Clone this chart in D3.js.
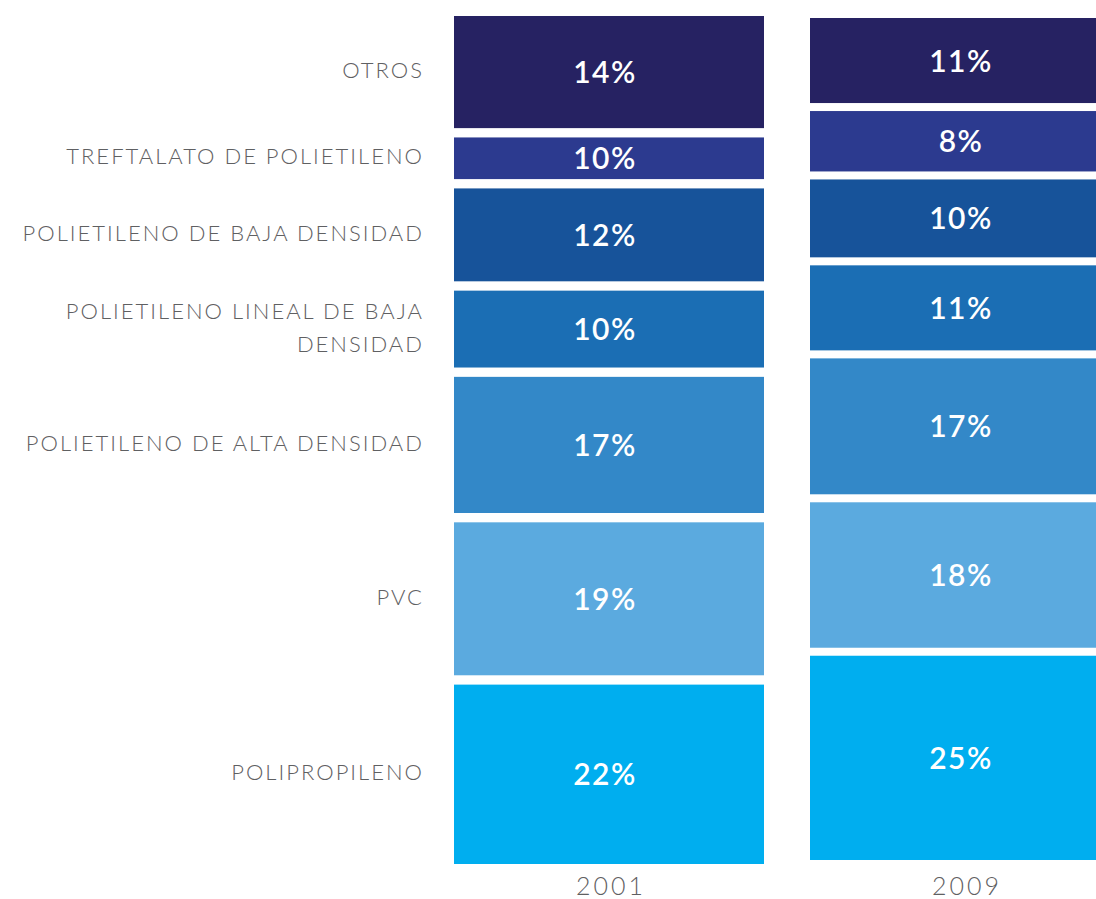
<!DOCTYPE html>
<html><head><meta charset="utf-8">
<script src="https://cdn.jsdelivr.net/npm/d3@7"></script>
<style>html,body{margin:0;padding:0;background:#fff;overflow:hidden}</style>
</head><body><svg id="c" width="1096" height="899"></svg>
<script>
// ---- data (bottom to top) ----
const categories = ["POLIPROPILENO", "PVC", "POLIETILENO DE ALTA DENSIDAD",
  "POLIETILENO LINEAL DE BAJA DENSIDAD", "POLIETILENO DE BAJA DENSIDAD",
  "TREFTALATO DE POLIETILENO", "OTROS"];
const categoryLines = [["POLIPROPILENO"], ["PVC"], ["POLIETILENO DE ALTA DENSIDAD"],
  ["POLIETILENO LINEAL DE BAJA", "DENSIDAD"], ["POLIETILENO DE BAJA DENSIDAD"],
  ["TREFTALATO DE POLIETILENO"], ["OTROS"]];
const years = ["2001", "2009"];
const values2001 = [22.4, 19.1, 17.0, 9.6, 11.6, 5.2, 14.0];
const values2009 = [25.7, 18.3, 17.1, 10.7, 9.8, 7.6, 10.7];
const labels2001 = ["22%", "19%", "17%", "10%", "12%", "10%", "14%"];
const labels2009 = ["25%", "18%", "17%", "11%", "10%", "8%", "11%"];
const colors = ["#00AEEF", "#5BAADF", "#3388C8", "#1B6EB4", "#17539A", "#2C3A8F", "#262262"];

// ---- layout ----
const svg = d3.select("#c");
const x = d3.scaleBand().domain(years).range([454, 1120]).paddingInner(46 / 356).paddingOuter(0);
const colLayout = {"2001": {top: 16, bottom: 864, gap: 9.33}, "2009": {top: 18, bottom: 860, gap: 8}};
const series = {"2001": {values: values2001, labels: labels2001}, "2009": {values: values2009, labels: labels2009}};

const segs2001 = [];
years.forEach(yr => {
  const L = colLayout[yr], vals = series[yr].values, labs = series[yr].labels;
  const n = vals.length, total = d3.sum(vals);
  const y = d3.scaleLinear().domain([0, total]).range([L.bottom, L.top + L.gap * (n - 1)]);
  let cum = 0;
  const segs = vals.map((v, i) => {
    const y0 = y(cum) - i * L.gap; cum += v;
    const y1 = y(cum) - i * L.gap;
    return {i, v, top: y1, bottom: y0, label: labs[i]};
  });
  if (yr === "2001") segs.forEach(s => segs2001.push(s));
  const g = svg.append("g");
  g.selectAll("rect").data(segs).join("rect")
    .attr("x", x(yr)).attr("width", x.bandwidth())
    .attr("y", d => d.top).attr("height", d => d.bottom - d.top)
    .attr("fill", d => colors[d.i]);
  g.selectAll("text.val").data(segs).join("text").attr("class", "val")
    .attr("x", x(yr) + x.bandwidth() / 2 - 4)
    .attr("y", d => (d.top + d.bottom) / 2 + 11)
    .attr("text-anchor", "middle")
    .attr("fill", "#fff")
    .style("font-family", "Lato, 'Open Sans', sans-serif")
    .style("font-weight", 600)
    .style("font-size", "30px")
    .style("letter-spacing", "1.5px")
    .text(d => d.label);
  svg.append("text")
    .attr("x", x(yr) + x.bandwidth() / 2 + 2)
    .attr("y", 895)
    .attr("text-anchor", "middle")
    .attr("fill", "#5f6062")
    .style("font-family", "Lato, sans-serif")
    .style("font-weight", 300)
    .style("font-size", "25px")
    .style("letter-spacing", "3px")
    .text(yr);
});

// category labels, aligned with 2001 segments
const lineH = 33;
segs2001.forEach(s => {
  const lines = categoryLines[s.i];
  const cy = (s.top + s.bottom) / 2 - 2;
  const t = svg.append("text")
    .attr("text-anchor", "end")
    .attr("fill", "#5f6062")
    .style("font-family", "Lato, sans-serif")
    .style("font-weight", 300)
    .style("font-size", "22px")
    .style("letter-spacing", "2px");
  lines.forEach((ln, k) => {
    t.append("tspan")
      .attr("x", 424)
      .attr("y", cy + 8 + (k - (lines.length - 1) / 2) * lineH)
      .text(ln);
  });
});
</script>
</body></html>
